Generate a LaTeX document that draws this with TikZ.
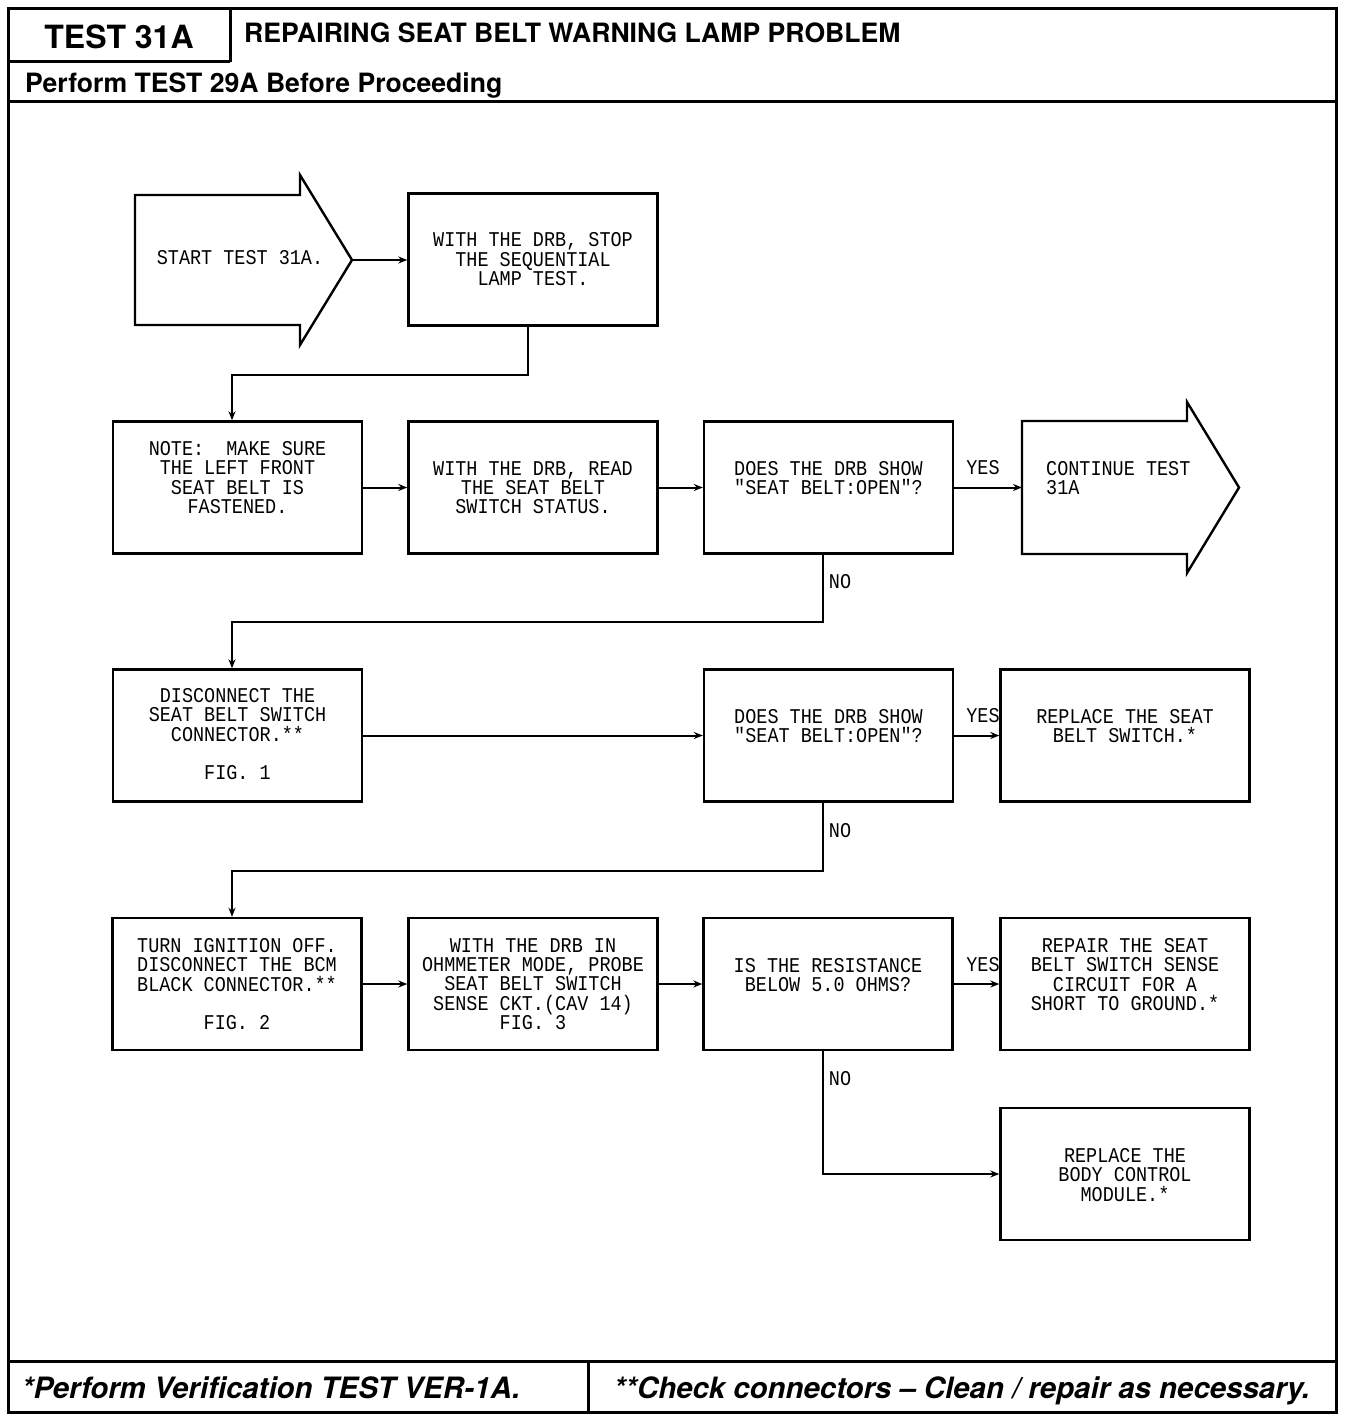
\documentclass[tikz,border=0pt]{standalone}
\usepackage{fontspec}
\setmainfont{TeX Gyre Heros}
\newfontfamily\plotfont[FakeStretch=0.88]{Liberation Mono}
\usetikzlibrary{arrows.meta,calc}
\begin{document}
\begin{tikzpicture}[x=1pt,y=-1pt,
  box/.style={draw,line width=2.4pt,minimum width=249pt,minimum height=132pt,inner sep=0pt},
  txt/.style={font=\plotfont\fontsize{21}{19.4}\selectfont,align=center,inner sep=0pt,anchor=north},
  lbl/.style={font=\plotfont\fontsize{21}{19.4}\selectfont,inner sep=0pt},
  conn/.style={line width=2pt,-{Stealth[length=9pt,width=7pt]}},
  frame/.style={line width=3pt},
  bigarrow/.style={draw,line width=2.4pt},
  head/.style={inner sep=0pt,font=\bfseries\fontsize{26.6}{26.6}\selectfont},
  foot/.style={inner sep=0pt,anchor=base west,font=\bfseries\itshape\fontsize{29.4}{29.4}\selectfont}]
\fill[white] (0,0) rectangle (1360,1420);
\useasboundingbox (0,0) rectangle (1360,1420);
% frame
\draw[frame] (8,9) rectangle (1336,1412);
\draw[frame] (230,9) -- (230,62);
\draw[frame] (8,62) -- (230,62);
\draw[frame] (8,102) -- (1336,102);
\draw[frame] (8,1361) -- (1336,1361);
\draw[frame] (588,1361) -- (588,1412);
% header texts
\node[head,anchor=base,font=\bfseries\fontsize{32}{32}\selectfont] (t31) at (119,49) {TEST 31A};
\node[head,anchor=base west] (title) at (244,43) {REPAIRING SEAT BELT WARNING LAMP PROBLEM};
\node[head,anchor=base west] (pre) at (25,93) {Perform TEST 29A Before Proceeding};
\node[foot] (f1) at (22,1398) {*Perform Verification TEST VER-1A.};
\node[foot] (f2) at (614,1398) {**Check connectors \textendash{} Clean / repair as necessary.};
% start arrow
\draw[bigarrow] (135,195) -- (300,195) -- (300,175) -- (352,260) -- (300,345) -- (300,325) -- (135,325) -- cycle;
\coordinate (starttip) at (352,260);
\node[lbl] (start) at (240,258) {START TEST 31A.};
% continue arrow
\draw[bigarrow] (1022,421) -- (1187,421) -- (1187,402) -- (1239,487.5) -- (1187,573) -- (1187,554) -- (1022,554) -- cycle;
\coordinate (contin) at (1022,487.5);
\node[txt,align=left,anchor=north west] (cont) at (1046,461) {CONTINUE TEST\\31A};
% boxes
\node[box] (b2) at (533,259.5) {};
\node[box] (b3) at (237.5,487.5) {};
\node[box] (b4) at (533,487.5) {};
\node[box] (b5) at (828.5,487.5) {};
\node[box] (b7) at (237.5,735.5) {};
\node[box] (b8) at (828.5,735.5) {};
\node[box] (b9) at (1125,735.5) {};
\node[box] (b10) at (237,984) {};
\node[box] (b11) at (533,984) {};
\node[box] (b12) at (828,984) {};
\node[box] (b13) at (1125,984) {};
\node[box] (b14) at (1125,1174) {};
% box texts
\node[txt] (t2) at ($(b2.center)+(0,-27)$) {WITH THE DRB, STOP\\THE SEQUENTIAL\\LAMP TEST.};
\node[txt] (t3) at ($(b3.center)+(0,-46.5)$) {NOTE:\ \ MAKE SURE\\THE LEFT FRONT\\SEAT BELT IS\\FASTENED.};
\node[txt] (t4) at ($(b4.center)+(0,-26.5)$) {WITH THE DRB, READ\\THE SEAT BELT\\SWITCH STATUS.};
\node[txt] (t5) at ($(b5.center)+(0,-26.5)$) {DOES THE DRB SHOW\\"SEAT BELT:OPEN"?};
\node[txt] (t7) at ($(b7.center)+(0,-47.5)$) {DISCONNECT THE\\SEAT BELT SWITCH\\CONNECTOR.**\\[19.4pt]FIG. 1};
\node[txt] (t8) at ($(b8.center)+(0,-26.5)$) {DOES THE DRB SHOW\\"SEAT BELT:OPEN"?};
\node[txt] (t9) at ($(b9.center)+(0,-26.5)$) {REPLACE THE SEAT\\BELT SWITCH.*};
\node[txt] (t10) at ($(b10.center)+(0,-46)$) {TURN IGNITION OFF.\\DISCONNECT THE BCM\\BLACK CONNECTOR.**\\[19.4pt]FIG. 2};
\node[txt] (t11) at ($(b11.center)+(0,-46)$) {WITH THE DRB IN\\OHMMETER MODE, PROBE\\SEAT BELT SWITCH\\SENSE CKT.(CAV 14)\\FIG. 3};
\node[txt] (t12) at ($(b12.center)+(0,-26)$) {IS THE RESISTANCE\\BELOW 5.0 OHMS?};
\node[txt] (t13) at ($(b13.center)+(0,-46)$) {REPAIR THE SEAT\\BELT SWITCH SENSE\\CIRCUIT FOR A\\SHORT TO GROUND.*};
\node[txt] (t14) at ($(b14.center)+(0,-26)$) {REPLACE THE\\BODY CONTROL\\MODULE.*};
% connectors
\draw[conn] (starttip) -- (starttip -| b2.west);
\draw[conn] ([xshift=-5pt]b2.south) -- ++(0,48) -| ([xshift=-5.5pt]b3.north);
\draw[conn] (b3.east) -- (b4.west);
\draw[conn] (b4.east) -- (b5.west);
\draw[conn] (b5.east) -- (contin);
\draw[conn] ([xshift=-5.5pt]b5.south) -- ++(0,67) -| ([xshift=-5.5pt]b7.north);
\draw[conn] (b7.east) -- (b8.west);
\draw[conn] (b8.east) -- (b9.west);
\draw[conn] ([xshift=-5.5pt]b8.south) -- ++(0,68) -| ([xshift=-5pt]b10.north);
\draw[conn] (b10.east) -- (b11.west);
\draw[conn] (b11.east) -- (b12.west);
\draw[conn] (b12.east) -- (b13.west);
\draw[conn] ([xshift=-5pt]b12.south) |- (b14.west);
% labels
\node[lbl] (y1) at (983,468) {YES};
\node[lbl] (y2) at (983,716) {YES};
\node[lbl] (y3) at (983,965) {YES};
\node[lbl] (n1) at (840,582) {NO};
\node[lbl] (n2) at (840,831) {NO};
\node[lbl] (n3) at (840,1079) {NO};
\end{tikzpicture}
\end{document}
